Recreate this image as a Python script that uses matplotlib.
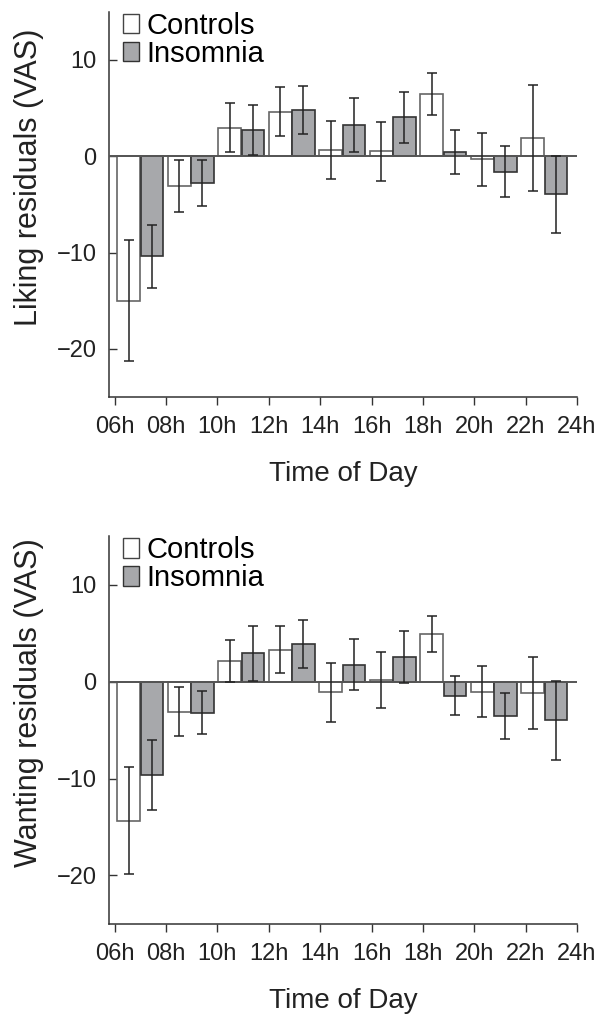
import numpy as np
import matplotlib
matplotlib.use("Agg")
import matplotlib.pyplot as plt
from matplotlib.patches import Patch

plt.rcParams['font.family'] = ['Liberation Sans', 'DejaVu Sans']

# dados (resíduos VAS, média e erro)
horas = [6, 8, 10, 12, 14, 16, 18, 20, 22]
rotulos_x = ["06h", "08h", "10h", "12h", "14h", "16h", "18h", "20h", "22h", "24h"]
ticks_x = [6, 8, 10, 12, 14, 16, 18, 20, 22, 24]

liking_controles = [-15.0, -3.1, 2.95, 4.6, 0.65, 0.5, 6.45, -0.3, 1.85]
liking_controles_erro = [6.3, 2.7, 2.55, 2.55, 3.0, 3.05, 2.2, 2.75, 5.5]
liking_insonia = [-10.4, -2.75, 2.7, 4.8, 3.2, 4.05, 0.45, -1.6, -3.95]
liking_insonia_erro = [3.3, 2.4, 2.6, 2.5, 2.8, 2.65, 2.25, 2.65, 4.0]

wanting_controles = [-14.35, -3.1, 2.1, 3.3, -1.1, 0.15, 4.9, -1.05, -1.15]
wanting_controles_erro = [5.5, 2.5, 2.2, 2.45, 3.05, 2.85, 1.85, 2.65, 3.7]
wanting_insonia = [-9.6, -3.2, 2.9, 3.85, 1.75, 2.55, -1.45, -3.55, -4.0]
wanting_insonia_erro = [3.6, 2.25, 2.8, 2.5, 2.65, 2.7, 2.0, 2.4, 4.05]

cinza = "#a7a8ab"


def desenhar_painel(ax, controles, controles_erro, insonia, insonia_erro, rotulo_y):
    centros = 7.0 + 1.966 * np.arange(len(horas))
    largura = 0.88
    ax.bar(centros - 0.45, controles, largura, color="white", edgecolor="#666666", linewidth=1.2, zorder=2)
    ax.bar(centros + 0.45, insonia, largura, color=cinza, edgecolor="#333333", linewidth=1.2, zorder=2)
    ax.errorbar(centros - 0.45, controles, yerr=controles_erro, fmt="none", ecolor="#222222",
                elinewidth=1.1, capsize=3.5, capthick=1.1, zorder=4)
    ax.errorbar(centros + 0.45, insonia, yerr=insonia_erro, fmt="none", ecolor="#222222",
                elinewidth=1.1, capsize=3.5, capthick=1.1, zorder=4)
    ax.axhline(0, color="#555555", linewidth=1.4, zorder=3)

    ax.set_xlim(5.78, 24)
    ax.set_ylim(-25, 15)
    ax.set_xticks(ticks_x)
    ax.set_xticklabels(rotulos_x)
    ax.set_yticks([-20, -10, 0, 10])
    ax.set_yticklabels(["\u221220", "\u221210", "0", "10"])
    ax.tick_params(axis="x", direction="out", length=6, width=1, pad=8, labelsize=17, colors="#333333",
                   labelcolor="#222222")
    ax.tick_params(axis="y", direction="in", length=6, width=1, pad=9, labelsize=17, colors="#333333",
                   labelcolor="#222222")
    for lado in ["top", "right"]:
        ax.spines[lado].set_visible(False)
    for lado in ["left", "bottom"]:
        ax.spines[lado].set_color("#333333")
        ax.spines[lado].set_linewidth(1.1)

    ax.set_xlabel("Time of Day", fontsize=20, color="#222222")
    ax.xaxis.set_label_coords(0.5, -0.165)
    ax.set_ylabel(rotulo_y, fontsize=22, color="#222222")
    ax.yaxis.set_label_coords(-0.139, 0.57)

    alcas = [Patch(facecolor="white", edgecolor="#444444", linewidth=1),
             Patch(facecolor=cinza, edgecolor="#333333", linewidth=1)]
    ax.legend(alcas, ["Controls", "Insomnia"], loc="upper left", bbox_to_anchor=(0.03, 1.0),
              frameon=False, fontsize=21, handlelength=0.55, handleheight=0.65, handletextpad=0.25,
              labelspacing=0.0, borderaxespad=0, borderpad=0)


fig = plt.figure(figsize=(6.04, 10.22), dpi=100)
ax1 = fig.add_axes([0.1805, 0.6115, 0.7748, 0.377])
ax2 = fig.add_axes([0.1805, 0.0959, 0.7748, 0.3796])

desenhar_painel(ax1, liking_controles, liking_controles_erro, liking_insonia, liking_insonia_erro,
                "Liking residuals (VAS)")
desenhar_painel(ax2, wanting_controles, wanting_controles_erro, wanting_insonia, wanting_insonia_erro,
                "Wanting residuals (VAS)")

fig.savefig("out.png", dpi=100)
